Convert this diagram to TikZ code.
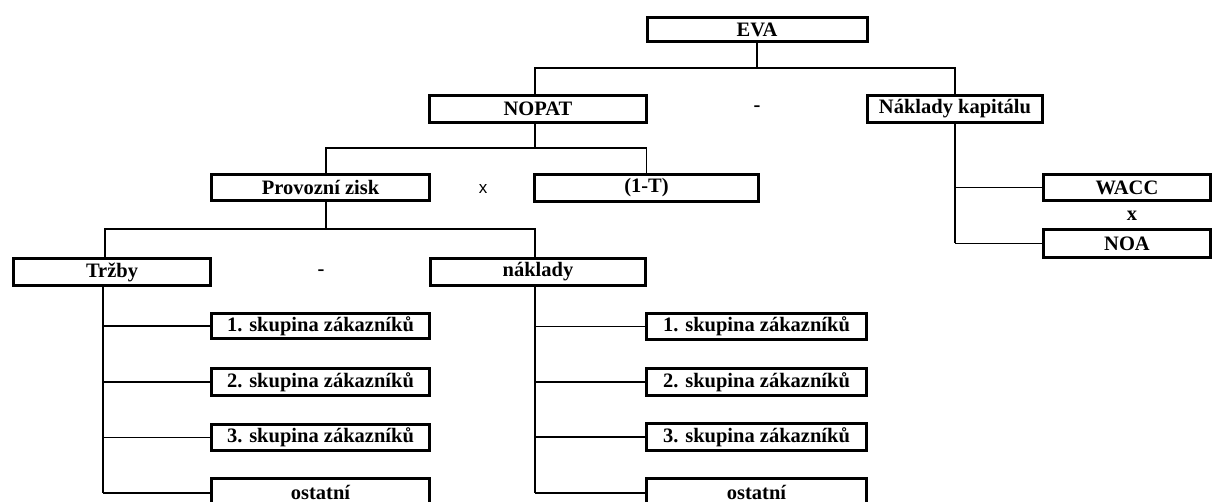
\documentclass[tikz,border=0pt]{standalone}
\usepackage{fontspec}
\setmainfont{Liberation Serif}
\newfontfamily\arialfont{Liberation Sans}
\begin{document}
\begin{tikzpicture}[x=1pt,y=-1pt,
  box/.style={draw=black,line width=3pt,inner sep=0pt,
    font=\fontsize{20.5}{24}\selectfont\bfseries,minimum height=27pt},
  link/.style={line width=1.5pt,black},
  op/.style={font=\fontsize{20.5}{24}\selectfont\bfseries,inner sep=0pt}]
\clip (0,0) rectangle (1212,502);
\fill[white] (0,0) rectangle (1212,502);

% top level
\node[box,minimum width=220pt,minimum height=24pt] (eva) at (757,29.5) {EVA};
\node[box,minimum width=217pt] (nopat) at (538,109) {NOPAT};
\node[box,minimum width=175pt] (nk) at (955,109) {Náklady kapitálu};
\node[op] (minus1) at (757,109) {-};

% NOPAT branch
\node[box,minimum width=218pt,minimum height=26pt] (pz) at (320.5,187.5) {Provozní zisk};
\node[box,minimum width=224pt] (tax) at (646.5,188) {(1-T)};
\node[inner sep=0pt,font=\arialfont\fontsize{17}{20}\selectfont] (times1) at (483,189) {x};

% capital cost branch
\node[box,minimum width=167pt,minimum height=26pt] (wacc) at (1127,187.5) {WACC};
\node[box,minimum width=167pt,minimum height=28pt] (noa) at (1127,243.5) {NOA};
\node[op] (times2) at (1132,216) {x};

% operating profit branch
\node[box,minimum width=197pt] (trz) at (112,272) {Tržby};
\node[box,minimum width=215pt] (nakl) at (538,272) {náklady};
\node[op] (minus2) at (321,273) {-};

% revenue groups
\node[box,minimum width=218pt,minimum height=25pt] (t1) at (320.5,326) {1. skupina zákazníků};
\node[box,minimum width=218pt] (t2) at (320.5,382) {2. skupina zákazníků};
\node[box,minimum width=218pt,minimum height=26pt] (t3) at (320.5,437.5) {3. skupina zákazníků};
\node[box,minimum width=218pt] (t4) at (320.5,492) {ostatní};

% cost groups
\node[box,minimum width=220pt,minimum height=26pt] (n1) at (756.5,326.5) {1. skupina zákazníků};
\node[box,minimum width=220pt] (n2) at (756.5,382) {2. skupina zákazníků};
\node[box,minimum width=220pt] (n3) at (756.5,437) {3. skupina zákazníků};
\node[box,minimum width=220pt] (n4) at (756.5,492) {ostatní};

% junction points
\coordinate (j1) at (757,68);
\coordinate (j2) at (535,148);
\coordinate (j3) at (326,229);
\coordinate (tb) at (103,493);
\coordinate (nb) at (535,493);
\coordinate (kb) at (955,243.5);

% connectors
\draw[link] (eva.south) -- (j1);
\draw[link] ([xshift=-3pt]nopat.north) |- (j1) -| (nk.north);
\draw[link] ([xshift=-3pt]nopat.south) -- (j2);
\draw[link] ([xshift=5.5pt]pz.north) |- (j2) -| (tax.north);
\draw[link] ([xshift=5.5pt]pz.south) -- (j3);
\draw[link] ([xshift=-7pt]trz.north) |- (j3) -| ([xshift=-3pt]nakl.north);

\draw[link] ([xshift=-9pt]trz.south) -- (tb);
\foreach \n in {t1,t2,t3} \draw[link] (\n.west) -- (\n.west -| tb);
\draw[link] (tb) -- (tb -| t4.west);

\draw[link] ([xshift=-3pt]nakl.south) -- (nb);
\foreach \n in {n1,n2,n3} \draw[link] (\n.west) -- (\n.west -| nb);
\draw[link] (nb) -- (nb -| n4.west);

\draw[link] (nk.south) -- (kb);
\draw[link] (wacc.west) -- (wacc.west -| kb);
\draw[link] (noa.west) -- (noa.west -| kb);
\end{tikzpicture}
\end{document}
